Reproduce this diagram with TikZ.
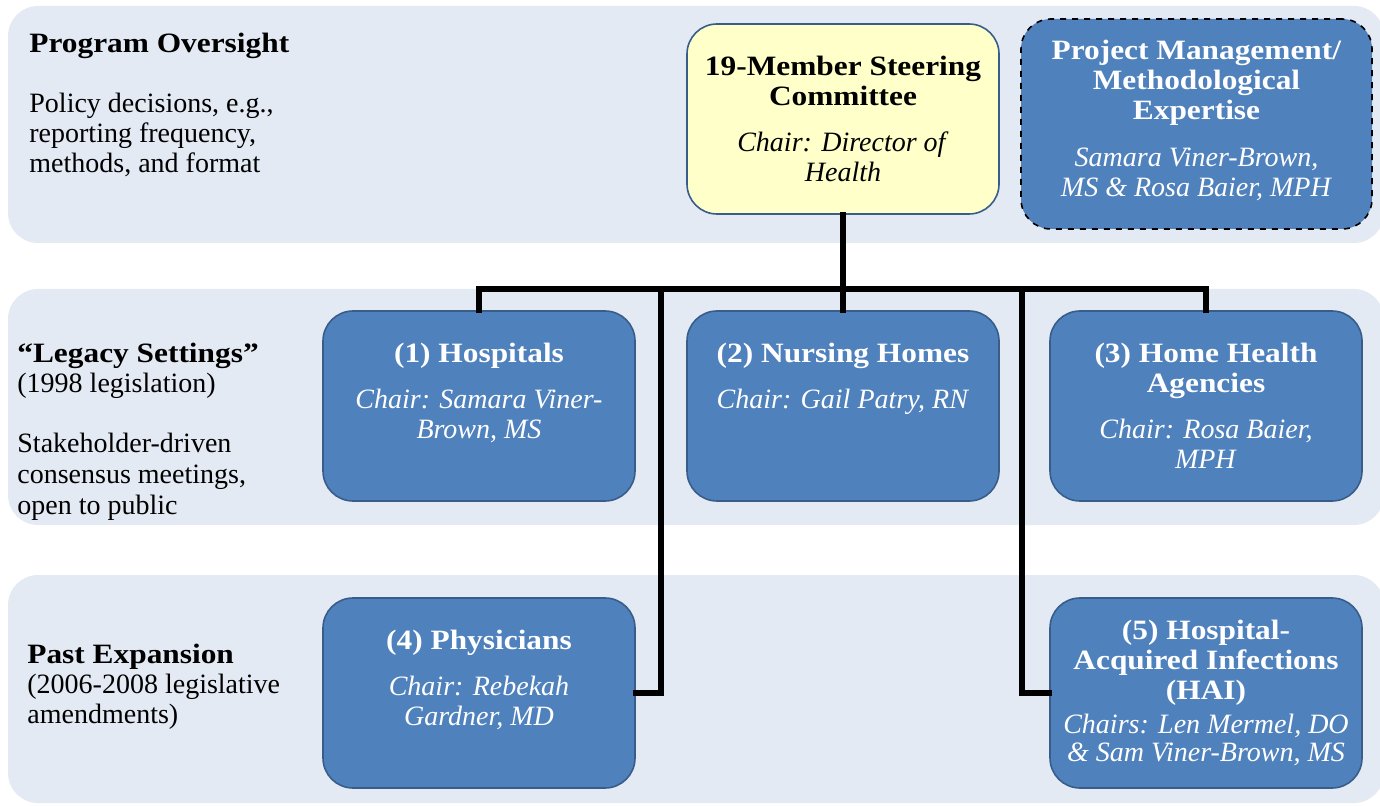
\documentclass[tikz,border=0pt]{standalone}
\usepackage{fontspec}
\setmainfont{Liberation Serif}[BoldFeatures={FakeStretch=1.12}]
\usepackage{tikz}

\definecolor{bandgray}{RGB}{228,234,244}
\definecolor{boxblue}{RGB}{79,129,189}
\definecolor{boxedge}{RGB}{56,93,138}
\definecolor{chairyellow}{RGB}{255,255,202}

\tikzset{
  band/.style={fill=bandgray, rounded corners=15pt},
  unit/.style={draw=boxedge, line width=0.8pt, fill=boxblue, rounded corners=15pt,
    minimum width=156pt, minimum height=95pt, inner sep=0pt},
  unittext/.style={anchor=north, align=center, inner sep=0pt, text=white,
    font=\fontsize{14}{15}\selectfont},
  sidetext/.style={anchor=north west, align=left, inner sep=0pt,
    font=\fontsize{14}{15}\selectfont},
  link/.style={line width=2.8pt, line cap=rect},
}

\begin{document}
\begin{tikzpicture}[x=0.5pt, y=-0.5pt]
  \useasboundingbox (0,0) rectangle (1380,806);

  \fill[band] (8,6) rectangle (1384,243);
  \fill[band] (8,289) rectangle (1384,525);
  \fill[band] (8,575) rectangle (1384,803);

  \node[sidetext] (oversight) at (29,33) {\textbf{Program Oversight}\\[15pt]
    Policy decisions, e.g.,\\reporting frequency,\\methods, and format};
  \node[sidetext] (legacy) at (17,343) {\textbf{“Legacy Settings”}\\
    (1998 legislation)\\[15pt]Stakeholder-driven\\[0.5pt]consensus meetings,\\[0.5pt]open to public};
  \node[sidetext] (expansion) at (27,644) {\textbf{Past Expansion}\\
    (2006-2008 legislative\\amendments)};

  \node[unit, fill=chairyellow] (steering) at (843,119) {};
  \node[unit, dashed, draw=black, minimum width=175.5pt, minimum height=105pt] (project) at (1196.5,124) {};
  \node[unit] (hosp) at (479,406) {};
  \node[unit] (nursing) at (843,406) {};
  \node[unit] (homehealth) at (1206,406) {};
  \node[unit] (phys) at (479,693) {};
  \node[unit] (hai) at (1206,693) {};

  \node[unittext, text=black, yshift=-16pt] (steeringtext) at (steering.north) {\textbf{19-Member Steering}\\\textbf{Committee}\\[8pt]\textit{Chair: Director of}\\\textit{Health}};
  \node[unittext, yshift=-10.5pt] (projecttext) at (project.north) {\textbf{Project Management/}\\\textbf{Methodological}\\\textbf{Expertise}\\[8.5pt]\textit{Samara Viner-Brown,}\\\textit{MS \& Rosa Baier, MPH}};
  \node[unittext, yshift=-16pt] (hosptext) at (hosp.north) {\textbf{(1) Hospitals}\\[8pt]\textit{Chair: Samara Viner-}\\\textit{Brown, MS}};
  \node[unittext, yshift=-16pt] (nursingtext) at (nursing.north) {\textbf{(2) Nursing Homes}\\[8pt]\textit{Chair: Gail Patry, RN}};
  \node[unittext, yshift=-16pt] (homehealthtext) at (homehealth.north) {\textbf{(3) Home Health}\\\textbf{Agencies}\\[8pt]\textit{Chair: Rosa Baier,}\\\textit{MPH}};
  \node[unittext, yshift=-16pt] (phystext) at (phys.north) {\textbf{(4) Physicians}\\[8pt]\textit{Chair: Rebekah}\\\textit{Gardner, MD}};
  \node[unittext, yshift=-11pt] (haitext) at (hai.north) {\textbf{(5) Hospital-}\\\textbf{Acquired Infections}\\\textbf{(HAI)}\\[2pt]\textit{Chairs: Len Mermel, DO}\\[-1pt]\textit{\& Sam Viner-Brown, MS}};

  \coordinate (bus) at (843,289);
  \draw[link] (steering.south) -- (bus);
  \draw[link] (hosp.north) |- (bus) -| (homehealth.north);
  \draw[link] (bus) -- (nursing.north);
  \draw[link] (phys.east) -| (661,289);
  \draw[link] (hai.west) -| (1022,289);
\end{tikzpicture}
\end{document}
